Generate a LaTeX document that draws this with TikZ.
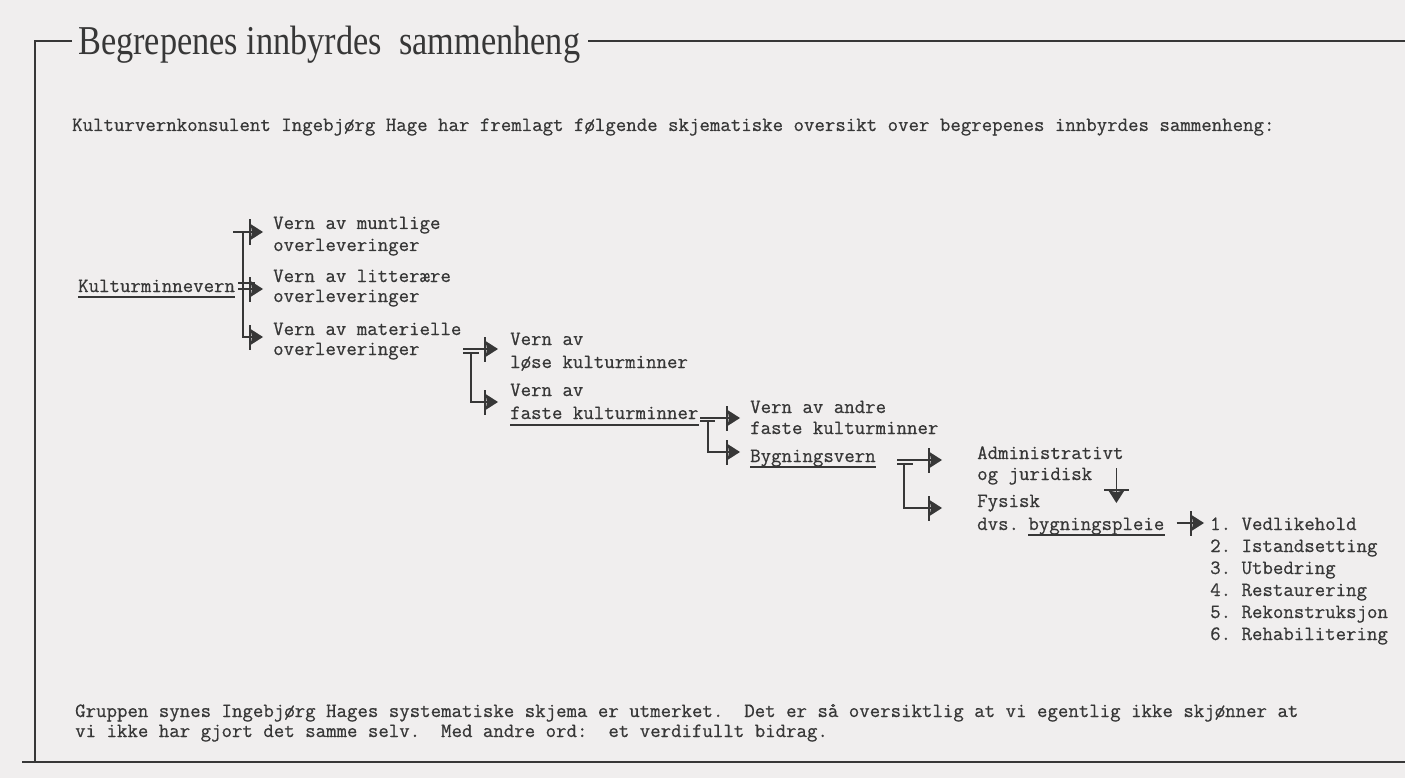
\documentclass[tikz,border=0pt]{standalone}
\usepackage{fontspec}
\usetikzlibrary{arrows.meta}
\newfontfamily\titlefont{Liberation Serif}
\newfontfamily\typew[FakeBold=0.6]{Latin Modern Mono}
\definecolor{paper}{RGB}{240,238,238}
\definecolor{ink}{RGB}{55,55,55}
\frenchspacing
\pgfdeclarearrow{
  name = BarTri,
  setup code = {
    \pgfarrowssettipend{0pt}
    \pgfarrowssetlineend{-10pt}
    \pgfarrowssetbackend{-14pt}
    \pgfarrowshullpoint{0pt}{0pt}
    \pgfarrowsupperhullpoint{-14pt}{12.5pt}
  },
  drawing code = {
    \pgfpathmoveto{\pgfpoint{0pt}{0pt}}
    \pgfpathlineto{\pgfpoint{-12.5pt}{8pt}}
    \pgfpathlineto{\pgfpoint{-11pt}{0pt}}
    \pgfpathlineto{\pgfpoint{-12.5pt}{-8pt}}
    \pgfpathclose
    \pgfusepathqfill
    \pgfpathrectangle{\pgfpoint{-14pt}{-12.5pt}}{\pgfpoint{2pt}{25pt}}
    \pgfusepathqfill
  }
}
\begin{document}
\begin{tikzpicture}[x=1pt,y=-1pt,
  tt/.style={anchor=base west,inner sep=0pt,font=\fontsize{20.3}{22}\selectfont\typew,text=ink},
  ln/.style={draw=ink,line width=1.3pt},
  frame/.style={draw=ink,line width=1.6pt},
  ul/.style={draw=ink,line width=1.2pt},
  arr/.style={ln,-{BarTri}}]
\fill[paper] (0,0) rectangle (1405,778);
\useasboundingbox (0,0) rectangle (1405,778);

% title and frame
\node[anchor=base west,inner sep=0pt,text=ink,font=\titlefont\fontsize{41}{44}\selectfont] (title) at (78,55) {\resizebox{502pt}{\height}{Begrepenes innbyrdes\ \ sammenheng}};
\draw[frame] ([xshift=-6pt]title.west |- 0,41) -- (35,41) -- (35,762);
\draw[frame] ([xshift=8pt]title.east |- 0,41) -- (1405,41);
\draw[frame] (22,762) -- (1405,762);

% texts
\node[tt] (intro) at (72,131) {Kulturvernkonsulent Ingebjørg Hage har fremlagt følgende skjematiske oversikt over begrepenes innbyrdes sammenheng:};

\node[tt] (kv) at (78,292) {Kulturminnevern};
\node[tt] (m1) at (273,229) {Vern av muntlige};
\node[tt] (m1b) at (273,251) {overleveringer};
\node[tt] (m2) at (273,282) {Vern av litterære};
\node[tt] (m2b) at (273,302) {overleveringer};
\node[tt] (m3) at (273,335) {Vern av materielle};
\node[tt] (m3b) at (273,355) {overleveringer};
\node[tt] (l1) at (510,345) {Vern av};
\node[tt] (l1b) at (510,368) {løse kulturminner};
\node[tt] (f1) at (510,396) {Vern av};
\node[tt] (fk) at (510,419) {faste kulturminner};
\node[tt] (a1) at (750,413) {Vern av andre};
\node[tt] (a1b) at (750,434) {faste kulturminner};
\node[tt] (bv) at (750,462) {Bygningsvern};
\node[tt] (ad) at (977,459) {Administrativt};
\node[tt] (adb) at (977,480) {og juridisk};
\node[tt] (fy) at (977,507) {Fysisk};
\node[tt] (dvs) at (977,530) {dvs.};
\node[tt] (bp) at (1028.2,530) {bygningspleie};
\node[tt] (v1) at (1210,530) {1. Vedlikehold};
\node[tt] (v2) at (1210,552) {2. Istandsetting};
\node[tt] (v3) at (1210,574) {3. Utbedring};
\node[tt] (v4) at (1210,596) {4. Restaurering};
\node[tt] (v5) at (1210,618) {5. Rekonstruksjon};
\node[tt] (v6) at (1210,640) {6. Rehabilitering};

\node[tt] (g1) at (75,717) {Gruppen synes Ingebjørg Hages systematiske skjema er utmerket.~ Det er så oversiktlig at vi egentlig ikke skjønner at};
\node[tt] (g2) at (75,737) {vi ikke har gjort det samme selv.~ Med andre ord:~ et verdifullt bidrag.};

% underlines
\draw[ul] ([yshift=-5pt]kv.base west) -- ([yshift=-5pt]kv.base east);
\draw[ul] ([yshift=-6pt]fk.base west) -- ([yshift=-6pt]fk.base east);
\draw[ul] ([yshift=-5pt]bv.base west) -- ([yshift=-5pt]bv.base east);
\draw[ul] ([yshift=-5pt]bp.base west) -- ([yshift=-5pt]bp.base east);

% bracket 1
\coordinate (m1t) at ([shift={(-10pt,-3pt)}]m1.base west);
\coordinate (m2t) at ([shift={(-10pt,-7pt)}]m2.base west);
\coordinate (m3t) at ([shift={(-10pt,-2pt)}]m3.base west);
\draw[arr] ([xshift=-30pt]m1t) -- (m1t);
\draw[arr] ([xshift=-20pt]m1t) |- (m3t);
\draw[ln] ([shift={(3pt,9pt)}]kv.base east) -- ++(17pt,0);
\draw[arr] ([shift={(3pt,3pt)}]kv.base east) -- (m2t);

% bracket 2
\coordinate (l1t) at ([shift={(-12pt,-4pt)}]l1.base west);
\coordinate (f1t) at ([shift={(-12pt,-6pt)}]f1.base west);
\draw[arr] ([xshift=-35pt]l1t) -- (l1t);
\draw[ln] ([shift={(-35pt,-4pt)}]l1t) -- ++(16pt,0);
\draw[arr] ([shift={(-27pt,-4pt)}]l1t) |- (f1t);

% bracket 3
\coordinate (a1t) at ([shift={(-10pt,-5pt)}]a1.base west);
\coordinate (bvt) at ([shift={(-10pt,10pt)}]bv.base west);
\draw[arr] ([xshift=-40pt]a1t) -- (a1t);
\draw[ln] ([shift={(-40pt,-3pt)}]a1t) -- ++(15pt,0);
\draw[arr] ([shift={(-32pt,-3pt)}]a1t) |- (bvt);

% bracket 4
\coordinate (adt) at ([shift={(-35pt,-1pt)}]ad.base west);
\coordinate (fyt) at ([shift={(-35pt,-1pt)}]fy.base west);
\draw[arr] ([xshift=-45pt]adt) -- (adt);
\draw[ln] ([shift={(-45pt,-4pt)}]adt) -- ++(16pt,0);
\draw[arr] ([shift={(-38pt,-4pt)}]adt) |- (fyt);

% down arrow
\coordinate (dA) at ([shift={(24pt,12pt)}]adb.base east);
\coordinate (dB) at ([shift={(24pt,-23pt)}]adb.base east);
\draw[arr] (dA) -- (dB);

% arrow to list
\draw[arr] ([shift={(12pt,7pt)}]bp.base east) -- ([shift={(-6pt,7pt)}]v1.base west);
\end{tikzpicture}
\end{document}
